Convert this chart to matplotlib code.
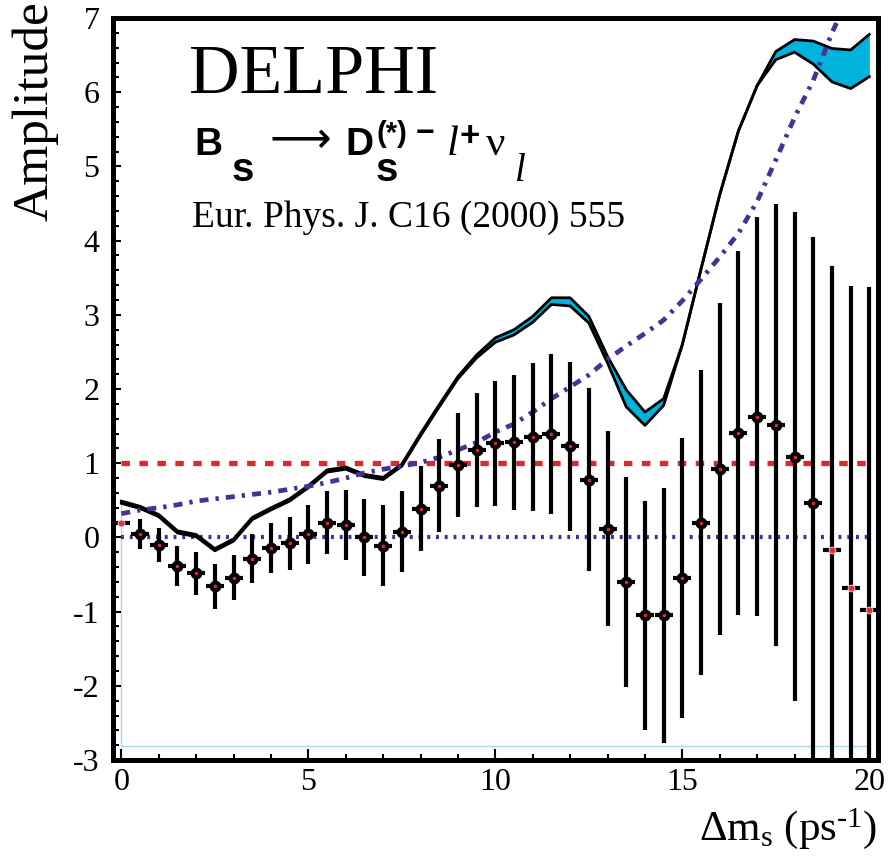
"""Bs oscillation amplitude scan, Bs -> Ds(*) l nu channel."""
import matplotlib
matplotlib.use("Agg")
import matplotlib.pyplot as plt  # noqa: E402
import numpy as np  # noqa: E402
from matplotlib.ticker import MultipleLocator  # noqa: E402

# scan points in delta m_s (ps^-1)
dm = np.arange(0, 20.01, 0.5)
amp = [0.19, 0.05, -0.10, -0.39, -0.48, -0.66, -0.54, -0.29, -0.14, -0.08,
       0.04, 0.20, 0.17, 0.00, -0.11, 0.08, 0.39, 0.70, 0.98, 1.18,
       1.27, 1.28, 1.35, 1.39, 1.23, 0.78, 0.12, -0.60, -1.05, -1.05,
       -0.55, 0.20, 0.92, 1.41, 1.63, 1.52, 1.09, 0.47, -0.17, -0.68, -0.98]
err = [0.00, 0.20, 0.23, 0.27, 0.29, 0.30, 0.30, 0.33, 0.34, 0.36,
       0.40, 0.42, 0.47, 0.52, 0.55, 0.55, 0.57, 0.63, 0.70, 0.77,
       0.84, 0.91, 1.00, 1.08, 1.14, 1.23, 1.31, 1.42, 1.54, 1.72,
       1.89, 2.06, 2.24, 2.45, 2.69, 2.98, 3.30, 3.58, 3.83, 4.07, 4.36]
# points drawn with the plain red marker
special = [0, 38, 39, 40]

# A + 1.645 sigma, stat only / stat+syst
band_hi = [0.49, 0.42, 0.31, 0.09, 0.04, -0.15, -0.02, 0.27, 0.40, 0.52,
           0.70, 0.91, 0.95, 0.85, 0.81, 0.99, 1.40, 1.79, 2.17, 2.46,
           2.69, 2.80, 2.98, 3.23, 3.23, 2.98, 2.44, 1.99, 1.69, 1.87,
           2.60, 3.62, 4.62, 5.48, 6.09, 6.55, 6.71, 6.69, 6.59, 6.57, 6.78]
band_lo = [0.46, 0.39, 0.28, 0.06, 0.01, -0.18, -0.05, 0.24, 0.37, 0.49,
           0.67, 0.88, 0.92, 0.82, 0.78, 0.96, 1.37, 1.76, 2.14, 2.42,
           2.63, 2.73, 2.90, 3.14, 3.12, 2.89, 2.35, 1.76, 1.51, 1.78,
           2.60, 3.62, 4.62, 5.48, 6.09, 6.44, 6.54, 6.38, 6.14, 6.05, 6.21]
band_floor = -2.81

# 1.645 sigma sensitivity curve
sens = [0.32, 0.37, 0.40, 0.44, 0.49, 0.52, 0.55, 0.58, 0.61, 0.65,
        0.69, 0.74, 0.80, 0.87, 0.92, 0.96, 1.01, 1.08, 1.18, 1.28,
        1.42, 1.53, 1.69, 1.87, 2.03, 2.19, 2.40, 2.58, 2.75, 2.93,
        3.19, 3.48, 3.78, 4.10, 4.53, 5.09, 5.66, 6.16, 6.80, 7.35, 7.90]

plt.rcParams["font.family"] = ["Liberation Serif", "DejaVu Serif"]
plt.rcParams["axes.unicode_minus"] = False
plt.rcParams["mathtext.fontset"] = "custom"
plt.rcParams["mathtext.rm"] = "Liberation Serif"
plt.rcParams["mathtext.it"] = "Liberation Serif:italic"

W, H = 888, 856
fig = plt.figure(figsize=(W / 100, H / 100), dpi=100)
ax = fig.add_axes([0.1278, 0.1121, 0.8609, 0.8668])

amp = np.array(amp)
err = np.array(err)
normal = [i for i in range(len(dm)) if i not in special]

# reference lines
ax.plot([0, 20], [1, 1], color="#e0262f", lw=3.8, ls=(0, (1.6, 1.8)), zorder=2)
ax.plot([0, 20], [0, 0], color="#3f2e9b", lw=3.0, ls=(0, (0.7, 1.4)), zorder=2)

# band outline down to its floor
ax.plot([0, 0, 20], [band_hi[0], band_floor, band_floor], color="#a9dcef", lw=1.0, zorder=1)

ax.fill_between(dm, band_lo, band_hi, color="#00b2dc", lw=0, zorder=2)
ax.plot(dm, band_hi, color="black", lw=2.0, zorder=3)
ax.plot(dm, band_lo, color="black", lw=2.0, zorder=3)

ax.plot(dm, sens, color="#4a2f94", lw=3.4, ls=(0, (1.9, 1.5, 0.7, 1.5)), zorder=3.5)

ax.errorbar(dm, amp, yerr=err, xerr=0.24, fmt="none", ecolor="black",
            elinewidth=3.0, capsize=0, zorder=4)
ax.plot(dm[normal], amp[normal], "o", color="black", ms=7.5, zorder=5)
ax.plot(dm[normal], amp[normal], "o", color="#e0262f", ms=1.6, zorder=6)
ax.plot(dm[special], amp[special], "o", color="#e8323a", ms=5, mec="white", mew=0.5, zorder=6)

ax.set_xlim(-0.21, 20.23)
ax.set_ylim(-3, 7)
ax.xaxis.set_major_locator(MultipleLocator(5))
ax.xaxis.set_minor_locator(MultipleLocator(1))
ax.yaxis.set_major_locator(MultipleLocator(1))
ax.yaxis.set_minor_locator(MultipleLocator(0.2))
ax.tick_params(which="both", direction="in", top=False, right=False, width=1.5, labelsize=23)
ax.tick_params(axis="x", which="major", length=8, pad=6)
ax.tick_params(axis="x", which="minor", length=4.5)
ax.tick_params(axis="y", which="major", length=6, pad=10)
ax.tick_params(axis="y", which="minor", length=4)
for s in ax.spines.values():
    s.set_linewidth(3.6)

fig.text(0.04, 0.998, "Amplitude", rotation=90, ha="center", va="top", fontsize=37)
fig.text(0.988, 1 - 840 / H, "\u0394m$_{\\rm s}$ (ps$^{\\rm \u20101}$)", ha="right",
         va="baseline", fontsize=31)


def put(x, y, s, size, **kw):
    # place a text piece by its left edge / baseline in pixels from the top-left
    fig.text(x / W, 1 - y / H, s, fontsize=size, va="baseline", **kw)


sans_bold = dict(family="Liberation Sans", weight="bold")

put(189, 93, "DELPHI", 50.5)

# decay channel, built piece by piece
put(194, 155, "B", 28, **sans_bold)
put(232, 181, "s", 29, **sans_bold)
put(269, 152, "\u27f6", 31, family="DejaVu Sans")
put(345, 155, "D", 28, **sans_bold)
put(376, 181, "s", 29, **sans_bold)
put(376, 142, "(*)", 21, **sans_bold)
put(416, 142, "\u2212", 23, **sans_bold)
put(447, 155, "l", 31, style="italic")
put(459, 146, "+", 25, **sans_bold)
put(486, 155, "\u03bd", 31)
put(515, 181, "l", 28, style="italic")

put(192, 227, "Eur. Phys. J. C16 (2000) 555", 27)

fig.savefig("out.png", dpi=100)
plt.close(fig)
